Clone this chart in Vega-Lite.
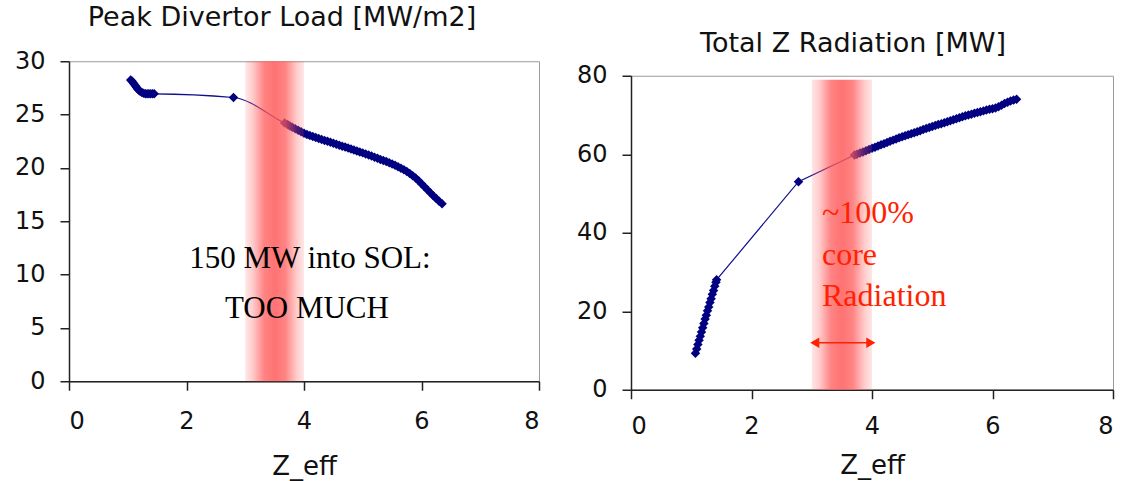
{
  "$schema": "https://vega.github.io/schema/vega-lite/v6.json",
  "background": "white",
  "padding": {"left": 13, "top": 3, "right": 2, "bottom": 0},
  "config": {
    "view": {"stroke": "#9a9a9a", "strokeWidth": 1},
    "axis": {"grid": false, "domainColor": "#222", "domainWidth": 1.5, "tickColor": "#222", "tickWidth": 1.5, "tickSize": 9, "labelFont": "DejaVu Sans", "labelFontSize": 24, "labelColor": "#111", "titleFont": "DejaVu Sans", "titleFontSize": 26, "titleFontWeight": "normal", "titleColor": "#111"},
    "title": {"font": "DejaVu Sans", "fontSize": 27, "fontWeight": "normal", "color": "#111"}
  },
  "datasets": {
    "load": [
      {"zeff": 1.05, "load": 28.25}, {"zeff": 1.07, "load": 28.15}, {"zeff": 1.09, "load": 28.0}, {"zeff": 1.11, "load": 27.85},
      {"zeff": 1.13, "load": 27.7}, {"zeff": 1.15, "load": 27.55}, {"zeff": 1.17, "load": 27.4}, {"zeff": 1.19, "load": 27.28},
      {"zeff": 1.21, "load": 27.18}, {"zeff": 1.24, "load": 27.08}, {"zeff": 1.27, "load": 27.0}, {"zeff": 1.30, "load": 26.96},
      {"zeff": 1.33, "load": 26.95}, {"zeff": 1.36, "load": 26.95}, {"zeff": 1.39, "load": 26.95}, {"zeff": 1.42, "load": 26.95},
      {"zeff": 1.45, "load": 26.95}, {"zeff": 2.80, "load": 26.6}, {"zeff": 3.67, "load": 24.2}, {"zeff": 3.72, "load": 24.06},
      {"zeff": 3.76, "load": 23.94}, {"zeff": 3.80, "load": 23.82}, {"zeff": 3.85, "load": 23.68}, {"zeff": 3.90, "load": 23.53},
      {"zeff": 3.95, "load": 23.39}, {"zeff": 4.00, "load": 23.25}, {"zeff": 4.05, "load": 23.14}, {"zeff": 4.10, "load": 23.03},
      {"zeff": 4.15, "load": 22.94}, {"zeff": 4.20, "load": 22.85}, {"zeff": 4.25, "load": 22.76}, {"zeff": 4.30, "load": 22.67},
      {"zeff": 4.35, "load": 22.58}, {"zeff": 4.40, "load": 22.49}, {"zeff": 4.45, "load": 22.4}, {"zeff": 4.50, "load": 22.31},
      {"zeff": 4.55, "load": 22.22}, {"zeff": 4.60, "load": 22.13}, {"zeff": 4.65, "load": 22.04}, {"zeff": 4.70, "load": 21.95},
      {"zeff": 4.75, "load": 21.86}, {"zeff": 4.80, "load": 21.77}, {"zeff": 4.85, "load": 21.68}, {"zeff": 4.90, "load": 21.59},
      {"zeff": 4.95, "load": 21.5}, {"zeff": 5.00, "load": 21.41}, {"zeff": 5.05, "load": 21.31}, {"zeff": 5.10, "load": 21.21},
      {"zeff": 5.15, "load": 21.11}, {"zeff": 5.20, "load": 21.01}, {"zeff": 5.25, "load": 20.91}, {"zeff": 5.30, "load": 20.8},
      {"zeff": 5.35, "load": 20.7}, {"zeff": 5.40, "load": 20.6}, {"zeff": 5.45, "load": 20.48}, {"zeff": 5.50, "load": 20.37},
      {"zeff": 5.55, "load": 20.24}, {"zeff": 5.60, "load": 20.11}, {"zeff": 5.65, "load": 19.97}, {"zeff": 5.70, "load": 19.82},
      {"zeff": 5.75, "load": 19.66}, {"zeff": 5.80, "load": 19.48}, {"zeff": 5.85, "load": 19.27}, {"zeff": 5.90, "load": 19.05},
      {"zeff": 5.95, "load": 18.8}, {"zeff": 6.00, "load": 18.52}, {"zeff": 6.05, "load": 18.24}, {"zeff": 6.10, "load": 17.95},
      {"zeff": 6.15, "load": 17.67}, {"zeff": 6.20, "load": 17.4}, {"zeff": 6.25, "load": 17.13}, {"zeff": 6.30, "load": 16.88},
      {"zeff": 6.35, "load": 16.65}
    ],
    "rad": [
      {"zeff": 1.07, "rad": 9.3}, {"zeff": 1.09, "rad": 10.4}, {"zeff": 1.11, "rad": 11.5}, {"zeff": 1.13, "rad": 12.6},
      {"zeff": 1.15, "rad": 13.6}, {"zeff": 1.17, "rad": 14.7}, {"zeff": 1.19, "rad": 15.8}, {"zeff": 1.21, "rad": 16.9},
      {"zeff": 1.23, "rad": 18.0}, {"zeff": 1.25, "rad": 19.0}, {"zeff": 1.27, "rad": 20.1}, {"zeff": 1.29, "rad": 21.1},
      {"zeff": 1.31, "rad": 22.2}, {"zeff": 1.33, "rad": 23.2}, {"zeff": 1.35, "rad": 24.3}, {"zeff": 1.37, "rad": 25.3},
      {"zeff": 1.39, "rad": 26.4}, {"zeff": 1.41, "rad": 27.4}, {"zeff": 1.42, "rad": 28.0}, {"zeff": 2.78, "rad": 53.0},
      {"zeff": 3.71, "rad": 59.8}, {"zeff": 3.75, "rad": 60.0}, {"zeff": 3.80, "rad": 60.3}, {"zeff": 3.85, "rad": 60.6},
      {"zeff": 3.90, "rad": 60.9}, {"zeff": 3.95, "rad": 61.2}, {"zeff": 4.00, "rad": 61.5}, {"zeff": 4.05, "rad": 61.8},
      {"zeff": 4.10, "rad": 62.1}, {"zeff": 4.15, "rad": 62.4}, {"zeff": 4.20, "rad": 62.7}, {"zeff": 4.25, "rad": 63.0},
      {"zeff": 4.30, "rad": 63.3}, {"zeff": 4.35, "rad": 63.6}, {"zeff": 4.40, "rad": 63.9}, {"zeff": 4.45, "rad": 64.2},
      {"zeff": 4.50, "rad": 64.45}, {"zeff": 4.55, "rad": 64.7}, {"zeff": 4.60, "rad": 64.95}, {"zeff": 4.65, "rad": 65.2},
      {"zeff": 4.70, "rad": 65.5}, {"zeff": 4.75, "rad": 65.75}, {"zeff": 4.80, "rad": 66.0}, {"zeff": 4.85, "rad": 66.3},
      {"zeff": 4.90, "rad": 66.55}, {"zeff": 4.95, "rad": 66.8}, {"zeff": 5.00, "rad": 67.05}, {"zeff": 5.05, "rad": 67.3},
      {"zeff": 5.10, "rad": 67.55}, {"zeff": 5.15, "rad": 67.8}, {"zeff": 5.20, "rad": 68.05}, {"zeff": 5.25, "rad": 68.3},
      {"zeff": 5.30, "rad": 68.55}, {"zeff": 5.35, "rad": 68.8}, {"zeff": 5.40, "rad": 69.05}, {"zeff": 5.45, "rad": 69.3},
      {"zeff": 5.50, "rad": 69.55}, {"zeff": 5.55, "rad": 69.8}, {"zeff": 5.60, "rad": 70.0}, {"zeff": 5.65, "rad": 70.2},
      {"zeff": 5.70, "rad": 70.45}, {"zeff": 5.75, "rad": 70.65}, {"zeff": 5.80, "rad": 70.85}, {"zeff": 5.85, "rad": 71.05},
      {"zeff": 5.90, "rad": 71.25}, {"zeff": 5.95, "rad": 71.45}, {"zeff": 6.00, "rad": 71.6}, {"zeff": 6.05, "rad": 71.8},
      {"zeff": 6.10, "rad": 72.1}, {"zeff": 6.15, "rad": 72.5}, {"zeff": 6.20, "rad": 72.9}, {"zeff": 6.25, "rad": 73.25},
      {"zeff": 6.30, "rad": 73.55}, {"zeff": 6.35, "rad": 73.8}, {"zeff": 6.40, "rad": 74.0}
    ],
    "leftBand": [{"zlo": 3, "zhi": 4, "top": 30, "bottom": 0}],
    "rightBand": [{"zlo": 3, "zhi": 4, "top": 79, "bottom": 0}],
    "leftNotes": [
      {"zeff": 4.1, "val": 11.5, "label": "150 MW into SOL:"},
      {"zeff": 4.05, "val": 6.8, "label": "TOO MUCH"}
    ],
    "rightNotes": [
      {"zeff": 3.17, "val": 45, "label": "~100%"},
      {"zeff": 3.17, "val": 34.3, "label": "core"},
      {"zeff": 3.17, "val": 23.9, "label": "Radiation"}
    ],
    "arrow": [{"from": 3.05, "to": 3.98, "at": 12}]
  },
  "spacing": 34,
  "center": true,
  "hconcat": [
    {
      "width": 470,
      "height": 320,
      "title": {"text": "Peak Divertor Load [MW/m2]", "offset": 17, "dx": -22},
      "layer": [
        {
          "data": {"name": "load"},
          "mark": {"type": "line", "color": "#10108f", "strokeWidth": 1.2, "interpolate": "monotone"},
          "encoding": {
            "x": {"field": "zeff", "type": "quantitative", "scale": {"domain": [0, 8]}, "axis": {"title": ["Z_eff", ""], "titleLineHeight": 14, "values": [0, 2, 4, 6, 8], "format": "d", "labelPadding": 19, "titlePadding": 20}},
            "y": {"field": "load", "type": "quantitative", "title": null, "scale": {"domain": [0, 30]}, "axis": {"values": [0, 5, 10, 15, 20, 25, 30], "labelPadding": 15}}
          }
        },
        {
          "data": {"name": "load"},
          "mark": {"type": "point", "shape": "diamond", "filled": true, "color": "#000080", "size": 90, "opacity": 1},
          "encoding": {
            "x": {"field": "zeff", "type": "quantitative"},
            "y": {"field": "load", "type": "quantitative", "title": null}
          }
        },
        {
          "data": {"name": "leftBand"},
          "mark": {"type": "rect", "fill": {"gradient": "linear", "x1": 0, "x2": 1, "y1": 0, "y2": 0, "stops": [
            {"offset": 0, "color": "rgba(255,90,90,0.15)"},
            {"offset": 0.12, "color": "rgba(255,90,90,0.3)"},
            {"offset": 0.32, "color": "rgba(255,90,90,0.75)"},
            {"offset": 0.5, "color": "rgba(255,90,90,0.85)"},
            {"offset": 0.68, "color": "rgba(255,90,90,0.75)"},
            {"offset": 0.88, "color": "rgba(255,90,90,0.3)"},
            {"offset": 1, "color": "rgba(255,90,90,0.15)"}
          ]}},
          "encoding": {
            "x": {"field": "zlo", "type": "quantitative"},
            "x2": {"field": "zhi"},
            "y": {"field": "top", "type": "quantitative", "title": null},
            "y2": {"field": "bottom"}
          }
        },
        {
          "data": {"name": "leftNotes"},
          "mark": {"type": "text", "font": "Liberation Serif", "fontSize": 31, "color": "#000000"},
          "encoding": {
            "x": {"field": "zeff", "type": "quantitative"},
            "y": {"field": "val", "type": "quantitative", "title": null},
            "text": {"field": "label"}
          }
        }
      ]
    },
    {
      "width": 482,
      "height": 314,
      "title": {"text": "Total Z Radiation [MW]", "offset": 6, "dx": -19},
      "layer": [
        {
          "data": {"name": "rad"},
          "mark": {"type": "line", "color": "#10108f", "strokeWidth": 1.2, "interpolate": "linear"},
          "encoding": {
            "x": {"field": "zeff", "type": "quantitative", "scale": {"domain": [0, 8]}, "axis": {"title": "Z_eff", "values": [0, 2, 4, 6, 8], "format": "d", "labelPadding": 16, "titlePadding": 14}},
            "y": {"field": "rad", "type": "quantitative", "title": null, "scale": {"domain": [0, 80]}, "axis": {"values": [0, 10, 20, 30, 40, 50, 60, 70, 80], "labelPadding": 15}}
          }
        },
        {
          "data": {"name": "rad"},
          "mark": {"type": "point", "shape": "diamond", "filled": true, "color": "#000080", "size": 90, "opacity": 1},
          "encoding": {
            "x": {"field": "zeff", "type": "quantitative"},
            "y": {"field": "rad", "type": "quantitative", "title": null}
          }
        },
        {
          "data": {"name": "rightBand"},
          "mark": {"type": "rect", "fill": {"gradient": "linear", "x1": 0, "x2": 1, "y1": 0, "y2": 0, "stops": [
            {"offset": 0, "color": "rgba(255,90,90,0.15)"},
            {"offset": 0.12, "color": "rgba(255,90,90,0.3)"},
            {"offset": 0.32, "color": "rgba(255,90,90,0.75)"},
            {"offset": 0.5, "color": "rgba(255,90,90,0.85)"},
            {"offset": 0.68, "color": "rgba(255,90,90,0.75)"},
            {"offset": 0.88, "color": "rgba(255,90,90,0.3)"},
            {"offset": 1, "color": "rgba(255,90,90,0.15)"}
          ]}},
          "encoding": {
            "x": {"field": "zlo", "type": "quantitative"},
            "x2": {"field": "zhi"},
            "y": {"field": "top", "type": "quantitative", "title": null},
            "y2": {"field": "bottom"}
          }
        },
        {
          "data": {"name": "rightNotes"},
          "mark": {"type": "text", "font": "Liberation Serif", "fontSize": 32, "color": "#ff2200", "align": "left"},
          "encoding": {
            "x": {"field": "zeff", "type": "quantitative"},
            "y": {"field": "val", "type": "quantitative", "title": null},
            "text": {"field": "label"}
          }
        },
        {
          "data": {"name": "arrow"},
          "mark": {"type": "rule", "color": "#ff2200", "strokeWidth": 1.5},
          "encoding": {
            "x": {"field": "from", "type": "quantitative"},
            "x2": {"field": "to"},
            "y": {"field": "at", "type": "quantitative", "title": null}
          }
        },
        {
          "data": {"name": "arrow"},
          "mark": {"type": "point", "shape": "triangle-left", "filled": true, "color": "#ff2200", "size": 110, "opacity": 1},
          "encoding": {
            "x": {"field": "from", "type": "quantitative"},
            "y": {"field": "at", "type": "quantitative", "title": null}
          }
        },
        {
          "data": {"name": "arrow"},
          "mark": {"type": "point", "shape": "triangle-right", "filled": true, "color": "#ff2200", "size": 110, "opacity": 1},
          "encoding": {
            "x": {"field": "to", "type": "quantitative"},
            "y": {"field": "at", "type": "quantitative", "title": null}
          }
        }
      ]
    }
  ]
}
